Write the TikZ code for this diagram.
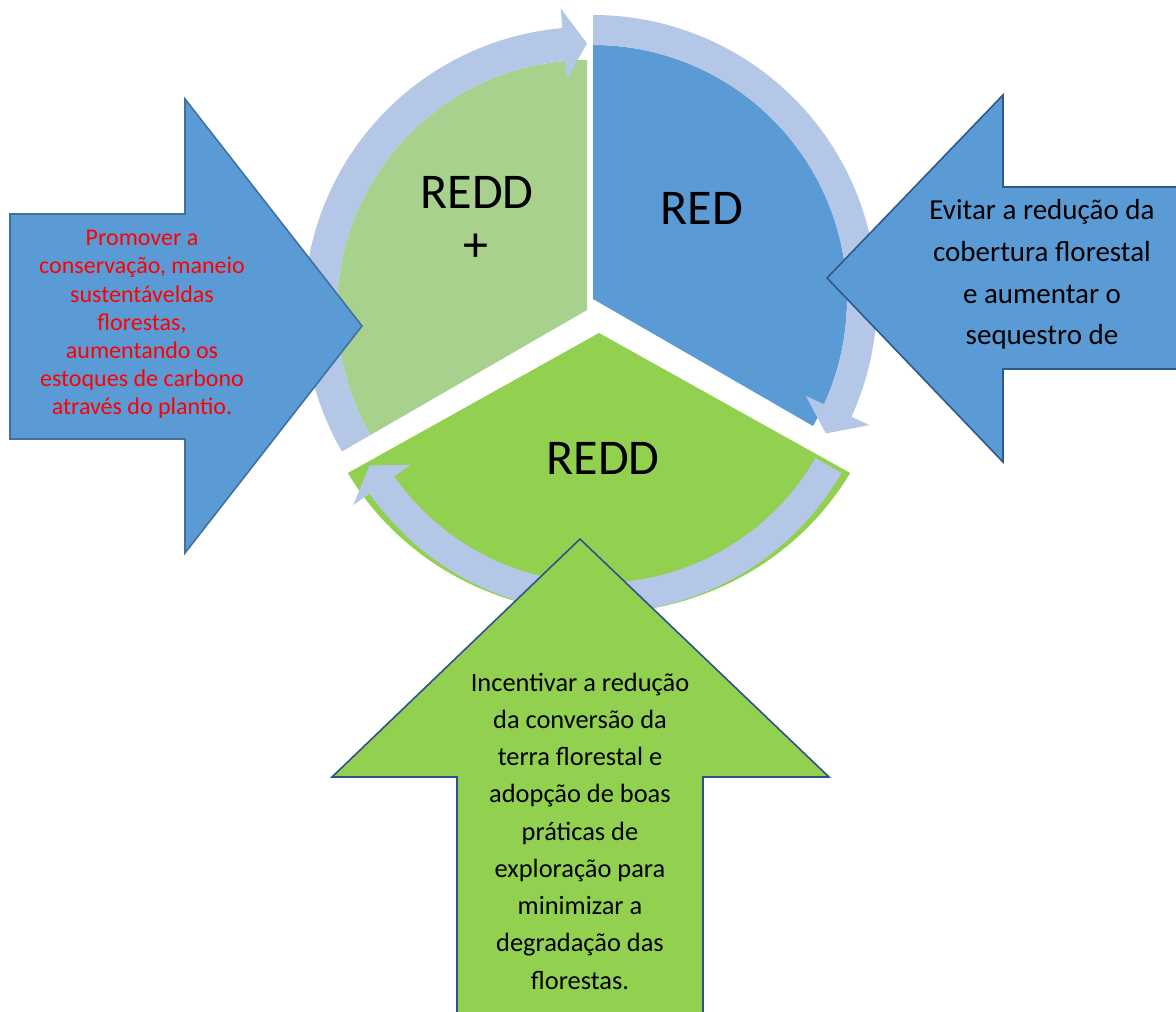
\documentclass[tikz,border=0pt]{standalone}
\usepackage{fontspec}
\setmainfont{Carlito}
\definecolor{lgreen}{HTML}{A9D18E}
\definecolor{segblue}{HTML}{5B9BD5}
\definecolor{leaf}{HTML}{92D050}
\definecolor{ringc}{HTML}{B4C7E7}
\definecolor{edgeA}{HTML}{41719C}
\definecolor{edgeB}{HTML}{2E5A8A}
\definecolor{edgeC}{HTML}{2F528F}
\begin{document}
\begin{tikzpicture}[x=1pt,y=1pt,
  blockarrow/.style={line width=1.6pt,line join=miter},
  label/.style={inner sep=0pt,font=\fontsize{50}{50}\selectfont},
  txt/.style={inner sep=0pt,align=center}]
\useasboundingbox (0,0) rectangle (1176,1012);
\coordinate (A1) at (587,702);
\coordinate (A2) at (593,713);
\coordinate (A3) at (599,679);
% sectors
\fill[lgreen] (A1) -- ([shift={(90:250)}]A1) arc[start angle=90,end angle=210,radius=250] -- cycle;
\fill[segblue] (A2) -- ([shift={(90:254)}]A2) arc[start angle=90,end angle=-30,radius=254] -- cycle;
\fill[leaf] (A3) -- ([shift={(210:290 and 280)}]A3) arc[start angle=210,end angle=330,x radius=290,y radius=280] -- cycle;
% ring arrows
\fill[ringc] ([shift={(210:283)}]A1) arc[start angle=210,end angle=95,radius=283]
  -- ([shift={(95:303)}]A1) -- ([shift={(90:266.5)}]A1) -- ([shift={(95:232)}]A1)
  -- ([shift={(95:250)}]A1) arc[start angle=95,end angle=210,radius=250] -- cycle;
\fill[ringc] ([shift={(90:284)}]A2) arc[start angle=90,end angle=-24.5,radius=284]
  -- ([shift={(-24.5:304)}]A2) -- ([shift={(-30:269)}]A2) -- ([shift={(-24.5:234)}]A2)
  -- ([shift={(-24.5:254)}]A2) arc[start angle=-24.5,end angle=90,radius=254] -- cycle;
\fill[ringc] ([shift={(-30:280)}]A3) arc[start angle=-30,end angle=-145,radius=280]
  -- ([shift={(-145:300)}]A3) -- ([shift={(-150:265)}]A3) -- ([shift={(-145:230)}]A3)
  -- ([shift={(-145:250)}]A3) arc[start angle=-145,end angle=-30,radius=250] -- cycle;
% sector labels
\node[label] (lreddplus) at (477,820) {REDD};
\node[label] (lplus) at (476,764) {+};
\node[label] (lred) at (702,804) {RED};
\node[label] (lredd) at (603,554) {REDD};
% block arrows
\draw[blockarrow,fill=segblue,draw=edgeA] (10,798) -- (185,798) -- (185,913) -- (362,686) -- (185,459) -- (185,573) -- (10,573) -- cycle;
\draw[blockarrow,fill=segblue,draw=edgeB] (827,734) -- (1003,917) -- (1003,825) -- (1200,825) -- (1200,643) -- (1003,643) -- (1003,550) -- cycle;
\draw[blockarrow,fill=leaf,draw=edgeC] (580,473) -- (829,235) -- (703,235) -- (703,-20) -- (457,-20) -- (457,235) -- (332,235) -- cycle;
% texts
\node[txt,text=red,font=\fontsize{24}{28.2}\selectfont] (tleft) at (142,687.5)
 {Promover a\\conservação, maneio\\sustentáveldas\\florestas,\\aumentando os\\estoques de carbono\\através do plantio.};
\node[txt,font=\fontsize{29}{41.7}\selectfont] (tright) at (1042,737.5)
 {Evitar a redução da\\cobertura florestal\\e aumentar o\\sequestro de};
\node[txt,font=\fontsize{26.4}{37.25}\selectfont] (tbottom) at (580,181)
 {Incentivar a redução\\da conversão da\\terra florestal e\\adopção de boas\\práticas de\\exploração para\\minimizar a\\degradação das\\florestas.};
\end{tikzpicture}
\end{document}
